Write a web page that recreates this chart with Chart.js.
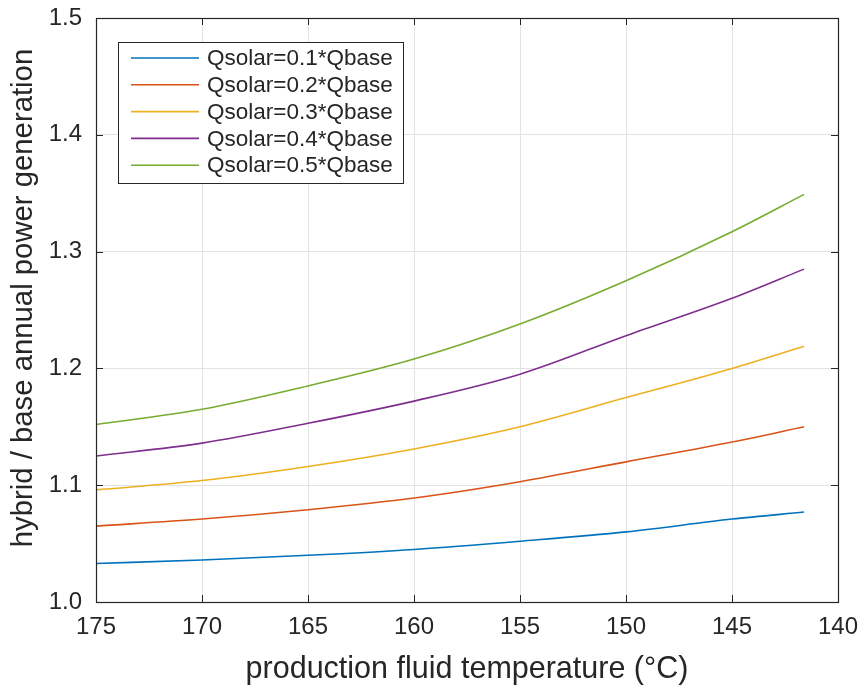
<!DOCTYPE html>
<html>
<head>
<meta charset="utf-8">
<script src="https://cdn.jsdelivr.net/npm/chart.js@4.4.1/dist/chart.umd.min.js"></script>
<style>
  html, body { margin: 0; padding: 0; background: #ffffff; }
  #wrap { width: 863px; height: 686px; position: relative; }
</style>
</head>
<body>
<div id="wrap"><canvas id="c"></canvas></div>
<script>
// Production fluid temperature (°C), hot end first
const temperatures = [175, 170, 165, 160, 155, 150, 145, 141.6];

// Hybrid / base annual power generation ratio for each solar share
const q01 = [1.033, 1.036, 1.040, 1.045, 1.052, 1.060, 1.071, 1.077];
const q02 = [1.065, 1.071, 1.079, 1.089, 1.103, 1.120, 1.137, 1.150];
const q03 = [1.096, 1.104, 1.116, 1.131, 1.150, 1.175, 1.200, 1.219];
const q04 = [1.125, 1.136, 1.153, 1.172, 1.195, 1.228, 1.260, 1.285];
const q05 = [1.152, 1.165, 1.185, 1.208, 1.238, 1.275, 1.317, 1.349];

const seriesNames = ['Qsolar=0.1*Qbase', 'Qsolar=0.2*Qbase', 'Qsolar=0.3*Qbase',
                     'Qsolar=0.4*Qbase', 'Qsolar=0.5*Qbase'];
const seriesValues = [q01, q02, q03, q04, q05];
const seriesColors = ['#0072BD', '#D95319', '#EDB120', '#7E2F8E', '#77AC30'];

const xTicks = [175, 170, 165, 160, 155, 150, 145, 140];
const yTicks = [1.0, 1.1, 1.2, 1.3, 1.4, 1.5];
const yTitle = 'hybrid / base annual power generation';

const FONT = 'Liberation Sans, Arial, Helvetica, sans-serif';
const INK = '#262626';

const datasets = seriesValues.map((vals, i) => ({
  label: seriesNames[i],
  data: temperatures.map((t, k) => ({ x: t, y: vals[k] })),
  borderColor: seriesColors[i],
  backgroundColor: seriesColors[i],
  borderWidth: 1.6,
  pointRadius: 0,
  fill: false,
  cubicInterpolationMode: 'monotone'
}));

// Box around the axes with inward tick marks on all four sides
const boxPlugin = {
  id: 'axesBox',
  afterDatasetsDraw(chart) {
    const { ctx, chartArea: a, scales } = chart;
    ctx.save();
    ctx.strokeStyle = INK;
    ctx.lineWidth = 1;
    const tl = 7;
    ctx.beginPath();
    xTicks.forEach(v => {
      const px = Math.round(scales.x.getPixelForValue(v)) + 0.5;
      ctx.moveTo(px, a.bottom); ctx.lineTo(px, a.bottom - tl);
      ctx.moveTo(px, a.top); ctx.lineTo(px, a.top + tl);
    });
    yTicks.forEach(v => {
      const py = Math.round(scales.y.getPixelForValue(v)) + 0.5;
      ctx.moveTo(a.left, py); ctx.lineTo(a.left + tl, py);
      ctx.moveTo(a.right, py); ctx.lineTo(a.right - tl, py);
    });
    ctx.stroke();
    ctx.lineWidth = 1.2;
    ctx.strokeRect(Math.round(a.left) + 0.5, Math.round(a.top) + 0.5,
                   Math.round(a.right - a.left), Math.round(a.bottom - a.top));
    ctx.restore();
  }
};

// Rotated y-axis title, sitting left of the tick labels
const yTitlePlugin = {
  id: 'yTitle',
  afterDraw(chart) {
    const { ctx, chartArea: a } = chart;
    ctx.save();
    ctx.translate(24, (a.top + a.bottom) / 2 - 12);
    ctx.rotate(-Math.PI / 2);
    ctx.font = '29.3px ' + FONT;
    ctx.fillStyle = INK;
    ctx.textAlign = 'center';
    ctx.textBaseline = 'middle';
    ctx.fillText(yTitle, 0, 0);
    ctx.restore();
  }
};

// Legend drawn inside the axes, upper-left corner
const insideLegend = {
  id: 'insideLegend',
  afterDraw(chart) {
    const { ctx, chartArea: a } = chart;
    const x0 = a.left + 22, y0 = a.top + 24;
    const w = 285, h = 141, rowH = 26.8;
    ctx.save();
    ctx.fillStyle = '#ffffff';
    ctx.fillRect(x0, y0, w, h);
    ctx.strokeStyle = INK;
    ctx.lineWidth = 1;
    ctx.strokeRect(x0 + 0.5, y0 + 0.5, w, h);
    ctx.font = '22.5px ' + FONT;
    ctx.textBaseline = 'middle';
    ctx.textAlign = 'left';
    chart.data.datasets.forEach((ds, i) => {
      const cy = y0 + 16 + i * rowH;
      ctx.strokeStyle = ds.borderColor;
      ctx.lineWidth = 1.6;
      ctx.beginPath();
      ctx.moveTo(x0 + 13, cy); ctx.lineTo(x0 + 81, cy);
      ctx.stroke();
      ctx.fillStyle = INK;
      ctx.fillText(ds.label, x0 + 89, cy + 1);
    });
    ctx.restore();
  }
};

new Chart(document.getElementById('c'), {
  type: 'line',
  data: { datasets },
  options: {
    responsive: true,
    maintainAspectRatio: false,
    animation: false,
    layout: { padding: { top: 18, right: 25, left: 0, bottom: 0 } },
    plugins: { legend: { display: false }, tooltip: { enabled: false } },
    scales: {
      x: {
        type: 'linear',
        reverse: true,
        min: 140,
        max: 175,
        afterBuildTicks: s => { s.ticks = xTicks.map(v => ({ value: v })); },
        afterFit: s => { s.height = 84; s.paddingLeft = 0; s.paddingRight = 0; },
        grid: { color: '#e3e3e3', drawTicks: false, lineWidth: 1 },
        border: { display: false },
        ticks: { color: INK, font: { family: FONT, size: 24 }, padding: 11, maxRotation: 0,
                 callback: v => String(v) },
        title: { display: true, text: 'production fluid temperature (°C)', color: INK,
                 font: { family: FONT, size: 30.5 }, padding: { top: 0, bottom: -2 } }
      },
      y: {
        min: 1.0,
        max: 1.5,
        afterBuildTicks: s => { s.ticks = yTicks.map(v => ({ value: v })); },
        afterFit: s => { s.width = 96; s.paddingTop = 0; s.paddingBottom = 0; },
        grid: { color: '#e3e3e3', drawTicks: false, lineWidth: 1 },
        border: { display: false },
        ticks: { color: INK, font: { family: FONT, size: 24 }, padding: 14,
                 callback: v => Number(v).toFixed(1) }
      }
    }
  },
  plugins: [boxPlugin, yTitlePlugin, insideLegend]
});
</script>
</body>
</html>
